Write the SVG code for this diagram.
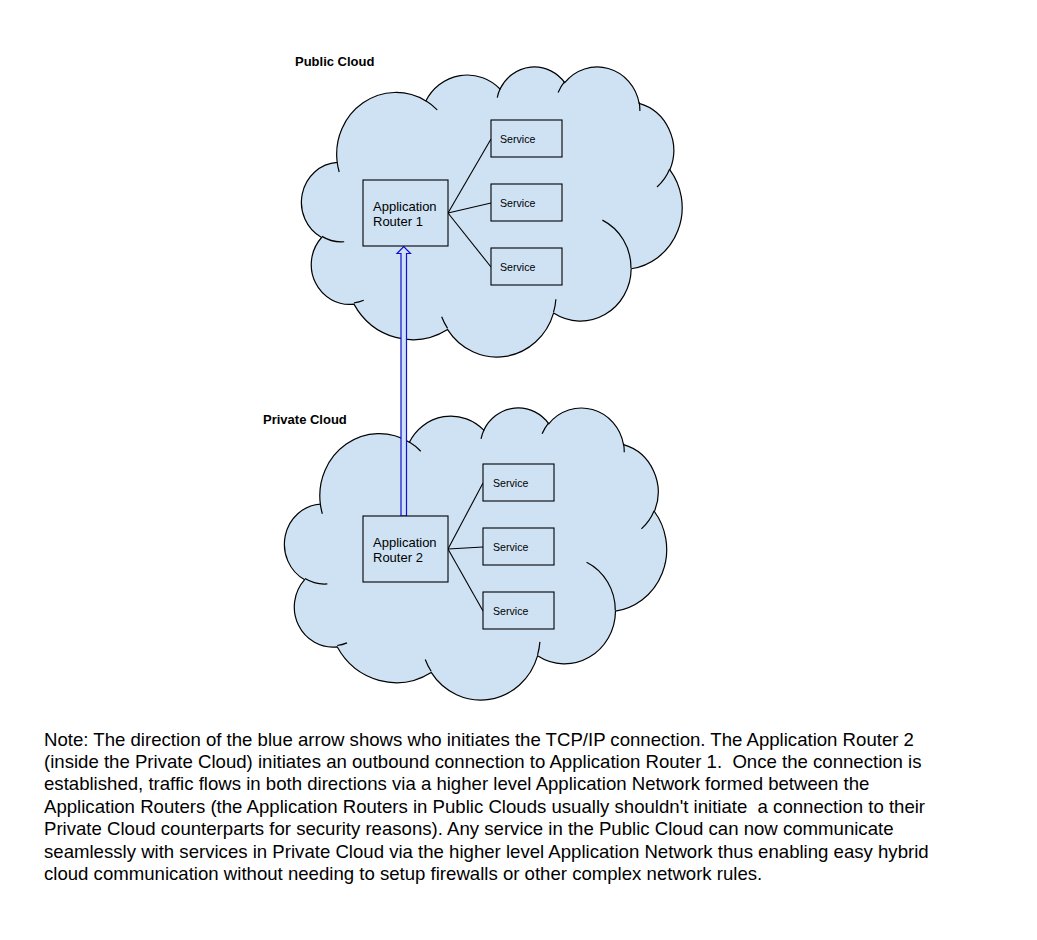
<svg xmlns="http://www.w3.org/2000/svg" width="1037" height="940" viewBox="0 0 1037 940">
<defs>
<style>
.cloud{fill:#cfe2f3;stroke:#000;stroke-width:1.2;vector-effect:non-scaling-stroke}
.inner{fill:none;stroke:#000;stroke-width:1.2;vector-effect:non-scaling-stroke}
.box{fill:#cfe2f3;stroke:#000;stroke-width:1.1}
.link{stroke:#000;stroke-width:1.1;fill:none}
.arrow{fill:#cfe2f3;stroke:#1010d8;stroke-width:1.2}
.lbl{font-family:"Liberation Sans",Arial,sans-serif;font-weight:bold;font-size:13px;fill:#000}
.rt{font-family:"Liberation Sans",Arial,sans-serif;font-size:13px;fill:#000}
.sv{font-family:"Liberation Sans",Arial,sans-serif;font-size:10.6px;fill:#000}
.note{font-family:"Liberation Sans",Arial,sans-serif;font-size:18.6px;fill:#000;white-space:pre}
</style>
</defs>
<rect width="1037" height="940" fill="#fff"/>

<g id="public-cloud">
<g transform="translate(303,66) scale(0.008773,0.006713)">
<path class="cloud" d="M3900 14370 A6753 9190 0 0 1 14005 5202 A5333 7267 0 0 1 22457 3432 A4365 5945 0 0 1 29835 2481 A4857 6595 0 0 1 38320 5576 A5333 7273 0 0 1 41821 15459 A6775 9220 0 0 1 37406 30201 A5785 7867 0 0 1 28558 36811 A6752 9215 0 0 1 16483 39263 A7720 10543 0 0 1 5808 35472 A4360 5918 0 0 1 2118 25550 A4345 5945 0 0 1 3900 14370 Z"/>
<path class="inner" d="M4693 26177 A4345 5945 0 0 1 2160 25380 M6928 34899 A4360 5918 0 0 1 5819 35281 M16478 39090 A6752 9215 0 0 1 15810 37349 M28827 34751 A6752 9215 0 0 1 28560 36660 M34129 22954 A5785 7867 0 0 1 37381 30090 M41798 15354 A5333 7273 0 0 1 40350 18030 M38324 5426 A4857 6595 0 0 1 38400 6690 M29078 3952 A4857 6595 0 0 1 29819 2341 M22141 4720 A4365 5945 0 0 1 22500 3330 M14000 5192 A6753 9190 0 0 1 15300 6541 M4127 15789 A6753 9190 0 0 1 3900 14370"/>
</g>
<text class="lbl" x="295" y="65.5">Public Cloud</text>
</g>

<g id="private-cloud">
<g transform="translate(286,407) scale(0.008808,0.00676)">
<path class="cloud" d="M3900 14370 A6753 9190 0 0 1 14005 5202 A5333 7267 0 0 1 22457 3432 A4365 5945 0 0 1 29835 2481 A4857 6595 0 0 1 38320 5576 A5333 7273 0 0 1 41821 15459 A6775 9220 0 0 1 37406 30201 A5785 7867 0 0 1 28558 36811 A6752 9215 0 0 1 16483 39263 A7720 10543 0 0 1 5808 35472 A4360 5918 0 0 1 2118 25550 A4345 5945 0 0 1 3900 14370 Z"/>
<path class="inner" d="M4693 26177 A4345 5945 0 0 1 2160 25380 M6928 34899 A4360 5918 0 0 1 5819 35281 M16478 39090 A6752 9215 0 0 1 15810 37349 M28827 34751 A6752 9215 0 0 1 28560 36660 M34129 22954 A5785 7867 0 0 1 37381 30090 M41798 15354 A5333 7273 0 0 1 40350 18030 M38324 5426 A4857 6595 0 0 1 38400 6690 M29078 3952 A4857 6595 0 0 1 29819 2341 M22141 4720 A4365 5945 0 0 1 22500 3330 M14000 5192 A6753 9190 0 0 1 15300 6541 M4127 15789 A6753 9190 0 0 1 3900 14370"/>
</g>
<text class="lbl" x="263" y="424">Private Cloud</text>
</g>

<g id="connectors">
<line class="link" x1="448" y1="213" x2="491" y2="139"/>
<line class="link" x1="448" y1="213" x2="491" y2="203"/>
<line class="link" x1="448" y1="213" x2="491" y2="267"/>
<line class="link" x1="448" y1="549" x2="483" y2="483"/>
<line class="link" x1="448" y1="549" x2="483" y2="547"/>
<line class="link" x1="448" y1="549" x2="483" y2="611"/>
<polygon id="arrow-r2-r1" class="arrow" points="401,516 401,253.5 397,253.5 403.7,246.5 410.5,253.5 406.5,253.5 406.5,516"/>
</g>

<g id="router1">
<rect class="box" x="363" y="180" width="85" height="66"/>
<text class="rt" x="373" y="211">Application</text>
<text class="rt" x="373" y="226">Router 1</text>
</g>
<g id="service1a">
<rect class="box" x="491" y="120" width="71" height="37"/>
<text class="sv" x="500" y="143">Service</text>
</g>
<g id="service1b">
<rect class="box" x="491" y="184" width="71" height="37"/>
<text class="sv" x="500" y="207">Service</text>
</g>
<g id="service1c">
<rect class="box" x="491" y="248" width="71" height="37"/>
<text class="sv" x="500" y="271">Service</text>
</g>

<g id="router2">
<rect class="box" x="363" y="516" width="85" height="66"/>
<text class="rt" x="373" y="547">Application</text>
<text class="rt" x="373" y="562">Router 2</text>
</g>
<g id="service2a">
<rect class="box" x="483" y="464" width="71" height="37"/>
<text class="sv" x="493" y="487">Service</text>
</g>
<g id="service2b">
<rect class="box" x="483" y="528" width="71" height="37"/>
<text class="sv" x="493" y="551">Service</text>
</g>
<g id="service2c">
<rect class="box" x="483" y="592" width="71" height="37"/>
<text class="sv" x="493" y="615">Service</text>
</g>

<g id="note">
<text class="note" x="44" y="745.5">Note: The direction of the blue arrow shows who initiates the TCP/IP connection. The Application Router 2</text>
<text class="note" x="44" y="767.9">(inside the Private Cloud) initiates an outbound connection to Application Router 1.  Once the connection is</text>
<text class="note" x="44" y="790.3">established, traffic flows in both directions via a higher level Application Network formed between the</text>
<text class="note" x="44" y="812.7">Application Routers (the Application Routers in Public Clouds usually shouldn't initiate  a connection to their</text>
<text class="note" x="44" y="835.1">Private Cloud counterparts for security reasons). Any service in the Public Cloud can now communicate</text>
<text class="note" x="44" y="857.5">seamlessly with services in Private Cloud via the higher level Application Network thus enabling easy hybrid</text>
<text class="note" x="44" y="879.9">cloud communication without needing to setup firewalls or other complex network rules.</text>
</g>
</svg>
